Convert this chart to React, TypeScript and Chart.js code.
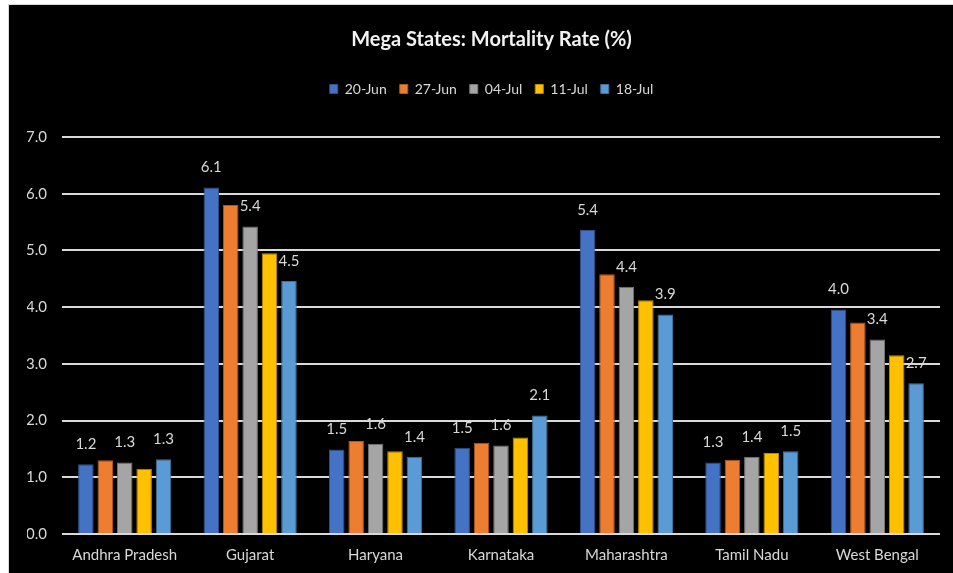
import React, { useEffect, useRef } from "react";
import { Chart, registerables } from "chart.js";

Chart.register(...registerables);

const categories = ["Andhra Pradesh", "Gujarat", "Haryana", "Karnataka", "Maharashtra", "Tamil Nadu", "West Bengal"];
const seriesNames = ["20-Jun", "27-Jun", "04-Jul", "11-Jul", "18-Jul"];
const s20Jun = [1.23, 6.11, 1.49, 1.52, 5.36, 1.26, 3.96];
const s27Jun = [1.30, 5.80, 1.64, 1.61, 4.58, 1.31, 3.73];
const s04Jul = [1.26, 5.42, 1.59, 1.56, 4.36, 1.36, 3.43];
const s11Jul = [1.15, 4.95, 1.46, 1.70, 4.12, 1.43, 3.15];
const s18Jul = [1.32, 4.46, 1.36, 2.09, 3.87, 1.46, 2.66];
const labelledSeries = [0, 2, 4];
const yTicks = [0, 1, 2, 3, 4, 5, 6, 7];

const fills = ["#4472C4", "#ED7D31", "#A5A5A5", "#FFC000", "#5B9BD5"];
const edges = ["#2F528F", "#AE5A21", "#787878", "#BC8C00", "#41719C"];
const textColor = "#d9d9d9";
const FONT = "Lato, 'Open Sans', sans-serif";

const valueLabels = {
  id: "valueLabels",
  afterDatasetsDraw(chart: any) {
    const ctx = chart.ctx;
    ctx.save();
    ctx.fillStyle = textColor;
    ctx.font = `15px ${FONT}`;
    ctx.textAlign = "center";
    ctx.textBaseline = "middle";
    labelledSeries.forEach((di) => {
      const meta = chart.getDatasetMeta(di);
      const data = chart.data.datasets[di].data as number[];
      meta.data.forEach((el: any, i: number) => {
        const v = Math.round(data[i] * 10) / 10;
        ctx.fillText(v.toFixed(1), el.x, el.y - 20);
      });
    });
    ctx.restore();
  },
};

const headerShift = 8;
const legendSpacer = {
  id: "legendSpacer",
  beforeUpdate(chart: any) {
    const lg = chart.legend;
    if (lg && !lg._patched) {
      const orig = lg.fit;
      lg.fit = function () {
        orig.call(this);
        this.height += 31;
      };
      lg._patched = true;
    }
  },
  afterLayout(chart: any) {
    [chart.titleBlock, chart.legend].forEach((b: any) => {
      if (b) {
        b.left += headerShift;
        b.right += headerShift;
      }
    });
  },
};

export default function App() {
  const ref = useRef<HTMLCanvasElement>(null);
  useEffect(() => {
    document.body.style.overflow = "hidden";
    Chart.defaults.font.family = FONT;
    const all = [s20Jun, s27Jun, s04Jul, s11Jul, s18Jul];
    const chart = new Chart(ref.current!, {
      type: "bar",
      data: {
        labels: categories,
        datasets: all.map((d, i) => ({
          label: seriesNames[i],
          data: d,
          backgroundColor: fills[i],
          borderColor: edges[i],
          borderWidth: 1,
          categoryPercentage: 0.774,
          barPercentage: 0.8,
        })),
      },
      options: {
        responsive: false,
        animation: false,
        devicePixelRatio: 1,
        layout: { padding: { left: 18, right: 33, top: 0, bottom: 9 } },
        plugins: {
          title: {
            display: true,
            text: "Mega States: Mortality Rate (%)",
            color: "#f2f2f2",
            font: { size: 20, weight: "bold", family: FONT },
            padding: { top: 23, bottom: 17 },
          },
          legend: {
            display: true,
            position: "top",
            labels: {
              color: textColor,
              font: { size: 14, family: FONT },
              boxWidth: 8,
              boxHeight: 9,
              padding: 13,
            },
          },
          tooltip: { enabled: false },
        },
        scales: {
          x: {
            grid: { display: false, drawTicks: false },
            border: { display: false },
            ticks: { color: textColor, font: { size: 15, family: FONT }, padding: 12, maxRotation: 0, autoSkip: false },
            afterFit: (axis: any) => {
              axis.height = 30;
            },
          },
          y: {
            min: 0,
            max: 7,
            afterBuildTicks: (axis: any) => {
              axis.ticks = yTicks.map((v) => ({ value: v }));
            },
            grid: { color: "#d9d9d9", lineWidth: 2, drawTicks: false },
            border: { display: false },
            ticks: {
              color: textColor,
              font: { size: 15, family: FONT },
              padding: 15,
              callback: (v: any) => Number(v).toFixed(1),
            },
            afterFit: (axis: any) => {
              axis.width = 35;
            },
          },
        },
      },
      plugins: [valueLabels, legendSpacer],
    });
    return () => chart.destroy();
  }, []);
  return (
    <div
      style={{
        position: "absolute",
        left: 8,
        top: 4,
        width: 964,
        height: 568,
        background: "#000",
        border: "1px solid #d9d9d9",
      }}
    >
      <canvas ref={ref} width={964} height={568} style={{ display: "block" }} />
    </div>
  );
}
